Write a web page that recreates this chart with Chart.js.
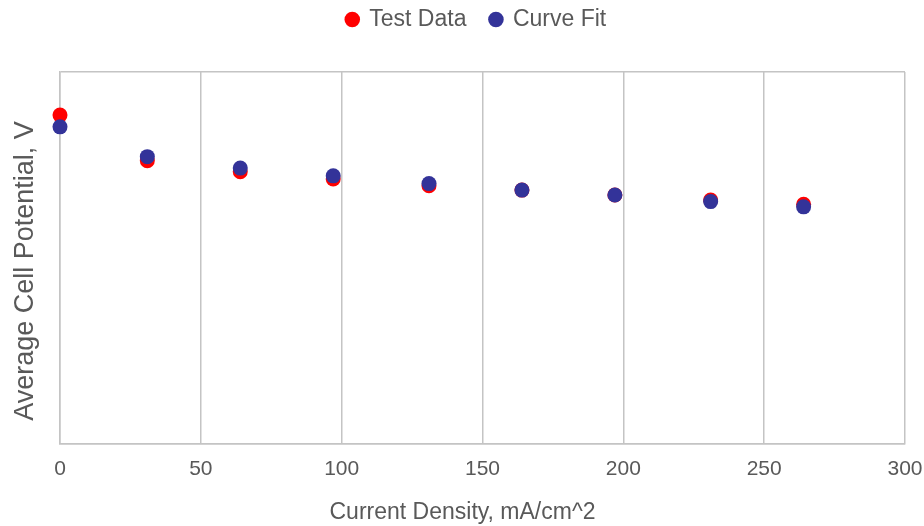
<!DOCTYPE html>
<html>
<head>
<meta charset="utf-8">
<script src="https://cdn.jsdelivr.net/npm/chart.js@4/dist/chart.umd.min.js"></script>
<style>
  html, body { margin: 0; padding: 0; background: #fff; }
  #wrap { width: 924px; height: 526px; position: relative; }
</style>
</head>
<body>
<div id="wrap"><canvas id="c"></canvas></div>
<script>
// ---- data ----
const currentDensity = [0, 31, 64, 97, 131, 164, 197, 231, 264];
const testData = [1.061, 0.914, 0.878, 0.855, 0.833, 0.819, 0.803, 0.787, 0.773];
const curveFit = [1.023, 0.927, 0.890, 0.865, 0.840, 0.819, 0.803, 0.782, 0.765];
const xTicks = [0, 50, 100, 150, 200, 250, 300];

const C = { ink: '#595959', grid: '#c4c4c4', red: '#FF0000', blue: '#333399' };
const FONT = "'Liberation Sans', Arial, sans-serif";

const toPoints = ys => currentDensity.map((x, i) => ({ x, y: ys[i] }));

// leave room under the legend, and nudge legend / titles where the reference has them
const boxNudge = {
  id: 'boxNudge',
  beforeInit(chart) {
    const fit = chart.legend.fit;
    chart.legend.fit = function () { fit.call(this); this.height = 72; };
  },
  afterLayout(chart) {
    const lg = chart.legend;
    lg.top -= 16; lg.bottom -= 16;
    lg.left += 24; lg.right += 24;
    const t = chart.titleBlock;
    if (t) { t.left += 10; t.right += 10; }
    const y = chart.scales.y;
    if (!y._nudged) {
      const drawTitle = y.drawTitle;
      y.drawTitle = function () {
        this.top += 13; this.bottom += 13;
        drawTitle.call(this);
        this.top -= 13; this.bottom -= 13;
      };
      y._nudged = true;
    }
  },
};

new Chart(document.getElementById('c'), {
  type: 'scatter',
  data: {
    datasets: [
      { label: 'Test Data', data: toPoints(testData), backgroundColor: C.red, borderWidth: 0,
        pointRadius: 7.5, pointHoverRadius: 7.5, order: 1, clip: false },
      { label: 'Curve Fit', data: toPoints(curveFit), backgroundColor: C.blue, borderWidth: 0,
        pointRadius: 7.5, pointHoverRadius: 7.5, order: 0, clip: false },
    ],
  },
  options: {
    responsive: true, maintainAspectRatio: false, animation: false,
    layout: { padding: { left: 0, right: 19, top: 0, bottom: 0 } },
    scales: {
      x: {
        type: 'linear', min: 0, max: 300,
        afterBuildTicks: s => { s.ticks = xTicks.map(v => ({ value: v })); },
        afterFit: s => { s.height = 54.4; s.paddingLeft = 0; s.paddingRight = 0; },
        grid: { color: C.grid, lineWidth: 1.5, drawTicks: false },
        border: { color: C.grid, width: 1.5 },
        ticks: { color: C.ink, font: { family: FONT, size: 21 }, padding: 13, maxRotation: 0 },
      },
      y: {
        min: 0, max: 1.2,
        ticks: { display: false, stepSize: 1.2 },
        afterFit: s => { s.width = 60; },
        grid: { color: C.grid, lineWidth: 1.5, drawTicks: false },
        border: { color: C.grid, width: 1.5 },
        title: { display: true, text: 'Average Cell Potential, V', color: C.ink,
          font: { family: FONT, size: 27 }, padding: { top: 9, bottom: 0 } },
      },
    },
    plugins: {
      legend: {
        position: 'top',
        labels: {
          usePointStyle: true, pointStyle: 'circle', boxWidth: 11, boxHeight: 11,
          padding: 24, color: C.ink, font: { family: FONT, size: 23 },
          sort: (a, b) => a.datasetIndex - b.datasetIndex,
        },
      },
      title: {
        display: true, position: 'bottom', text: 'Current Density, mA/cm^2', color: C.ink,
        font: { family: FONT, size: 23, weight: 'normal' }, padding: { top: 0, bottom: 0 },
      },
      tooltip: { enabled: false },
    },
  },
  plugins: [boxNudge],
});
</script>
</body>
</html>
